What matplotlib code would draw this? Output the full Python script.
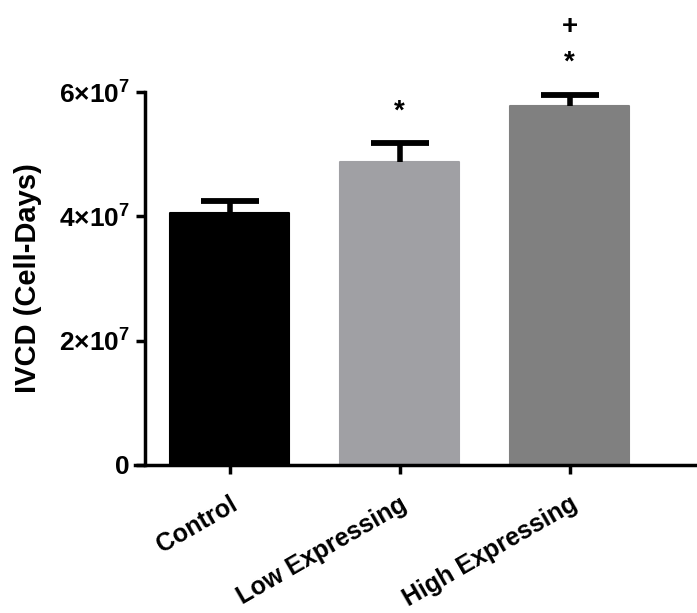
import matplotlib
matplotlib.use("Agg")
import matplotlib.pyplot as plt
import numpy as np

categories = ["Control", "Low Expressing", "High Expressing"]
means = [4.05e7, 4.87e7, 5.77e7]
errors = [0.19e7, 0.31e7, 0.18e7]
colors = ["#000000", "#a0a0a4", "#808080"]
ytick_vals = [0, 2e7, 4e7, 6e7]
ytick_labels = ["0", r"$\mathbf{2{\times}10^{7}}$", r"$\mathbf{4{\times}10^{7}}$", r"$\mathbf{6{\times}10^{7}}$"]
# significance marks: (category index, symbol, y position)
sig_marks = [(1, "*", 5.68e7), (2, "*", 6.48e7), (2, "+", 7.05e7)]

plt.rcParams['font.family'] = ['Liberation Sans', 'DejaVu Sans']
plt.rcParams['font.weight'] = 'bold'
plt.rcParams['mathtext.fontset'] = 'custom'
plt.rcParams['mathtext.rm'] = 'Liberation Sans'
plt.rcParams['mathtext.bf'] = 'Liberation Sans:bold'

W, H = 697, 613
fig = plt.figure(figsize=(W / 100, H / 100), dpi=100)
ax_left_px, ax_bottom_px, ax_top_px = 135, 465, 92
ax = fig.add_axes([ax_left_px / W, 1 - ax_bottom_px / H, (W - ax_left_px) / W, (ax_bottom_px - ax_top_px) / H])

x = np.arange(len(categories))
ax.bar(x, means, width=0.7, color=colors, edgecolor=colors, linewidth=1.5, joinstyle='round', zorder=2)
eb = ax.errorbar(x, means, yerr=[np.zeros(len(errors)), errors], fmt='none', ecolor='black',
                 elinewidth=4, capsize=21, capthick=4.2, zorder=3)
# hide the lower caps (errors are drawn upward only)
eb[1][0].set_visible(False)

for idx, sym, yv in sig_marks:
    ax.text(x[idx], yv, sym, ha='center', va='center', fontsize=20, fontweight='bold', clip_on=False)

ax.set_xlim(-0.556, 2.75)
ax.set_ylim(0, 6e7)
ax.spines['top'].set_visible(False)
ax.spines['right'].set_visible(False)
ax.spines['left'].set_position(('data', -0.5))
for s in ['left', 'bottom']:
    ax.spines[s].set_linewidth(2.5)
ax.set_yticks(ytick_vals)
ax.set_yticklabels(ytick_labels, fontsize=19, fontweight='bold')
ax.set_xticks(x)
ax.set_xticklabels(categories, fontsize=18, fontweight='bold', rotation=30, ha='right', va='top',
                   rotation_mode='anchor')
ax.tick_params(axis='both', direction='out', length=6.5, width=2.5)
ax.tick_params(axis='y', pad=4)
ax.tick_params(axis='x', pad=13)
ax.set_ylabel("IVCD (Cell-Days)", fontsize=21, fontweight='bold', labelpad=12)

fig.savefig("out.png", dpi=100)
